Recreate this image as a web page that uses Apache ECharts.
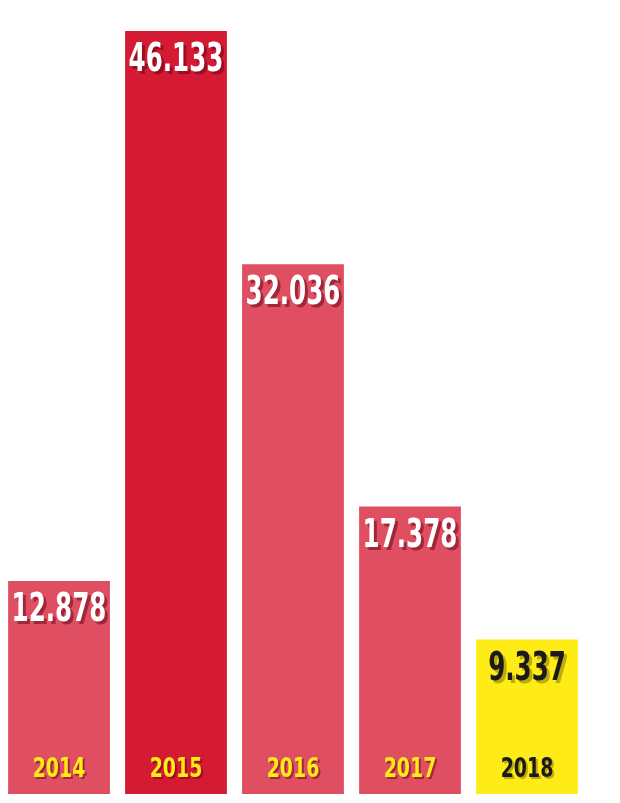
<!DOCTYPE html>
<html><head><meta charset="utf-8">
<style>html,body{margin:0;padding:0;background:#fff}#c{width:620px;height:803px}</style>
<script src="https://cdn.jsdelivr.net/npm/echarts@6/dist/echarts.min.js"></script>
</head><body><div id="c"></div>
<script>
const years = ['2014','2015','2016','2017','2018'];
const values = [12878, 46133, 32036, 17378, 9337];
const valueLabels = ['12.878','46.133','32.036','17.378','9.337'];
const barColors = ['#E04E62','#D51B34','#E04E62','#E04E62','#FFEC17'];
const valueTextColors = ['#ffffff','#ffffff','#ffffff','#ffffff','#1a1a1a'];
const yearTextColors = ['#FFEC17','#FFEC17','#FFEC17','#FFEC17','#1a1a1a'];
const shadowColors = ['rgba(95,0,15,0.5)','rgba(95,0,15,0.5)','rgba(95,0,15,0.5)','rgba(95,0,15,0.5)','rgba(110,95,0,0.45)'];

const FONT_FAMILY = '"DejaVu Sans Condensed", "DejaVu Sans", sans-serif';

function narrowText(x, y, text, size, scaleX, fill, shadow, off){
  const font = 'bold ' + size + 'px ' + FONT_FAMILY;
  return [
    {type:'text', x:x+off, y:y+off, scaleX:scaleX, silent:true,
      style:{x:0, y:0, text:text, font:font, fill:shadow, align:'center', verticalAlign:'middle'}},
    {type:'text', x:x, y:y, scaleX:scaleX, silent:true,
      style:{x:0, y:0, text:text, font:font, fill:fill, align:'center', verticalAlign:'middle'}}
  ];
}

const chart = echarts.init(document.getElementById('c'), null, {renderer:'canvas'});
chart.setOption({
  animation:false,
  grid:{left:0.5, width:585, top:31, bottom:9},
  xAxis:{type:'category', data:years, show:false},
  yAxis:{type:'value', min:0, max:Math.max(...values), show:false, splitLine:{show:false}},
  series:[
    {type:'bar', barCategoryGap:'13%',
      data: values.map((v,i)=>({value:v, itemStyle:{color:barColors[i]}}))},
    {type:'custom', clip:false, z:5,
      data: values.map((v,i)=>[i, v]),
      renderItem:(params, api)=>{
        const i = params.dataIndex;
        const top = api.coord([api.value(0), api.value(1)]);
        const base = api.coord([api.value(0), 0]);
        return {type:'group', children:[
          ...narrowText(top[0], top[1] + 30, valueLabels[i], 39, 0.70, valueTextColors[i], shadowColors[i], 3),
          ...narrowText(base[0], base[1] - 24, years[i], 27, 0.78, yearTextColors[i], shadowColors[i], 2)
        ]};
      }}
  ]
});
</script></body></html>
